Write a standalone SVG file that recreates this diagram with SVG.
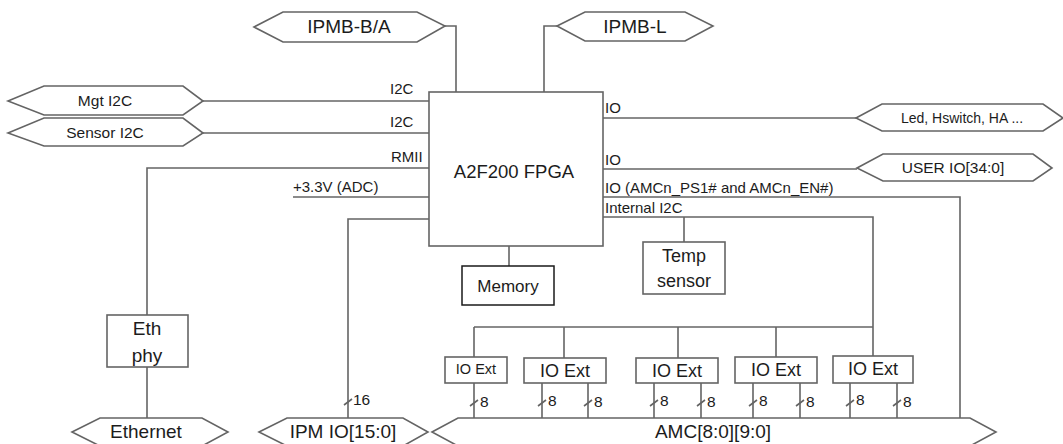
<svg xmlns="http://www.w3.org/2000/svg" width="1063" height="444" viewBox="0 0 1063 444">
<style>
.ln{fill:none;stroke:#646464;stroke-width:1.6}
.bx{fill:#fff;stroke:#646464;stroke-width:1.6}
.hx{fill:#fff;stroke:#646464;stroke-width:1.6}
.bk{fill:#fff;stroke:#1a1a1a;stroke-width:1.5}
text{font-family:"Liberation Sans",Arial,sans-serif;fill:#1c1c1c}
.s{font-size:15px}
.m{font-size:15.5px;text-anchor:middle}
.b{font-size:19px;text-anchor:middle}
.n{font-size:15.5px}
</style>
<rect width="1063" height="444" fill="#fff"/>
<g id="connectors">
<polyline class="ln" points="445,26 456,26 456,92"/>
<polyline class="ln" points="557,26 544,26 544,92"/>
<line class="ln" x1="203" y1="101" x2="429" y2="101"/>
<line class="ln" x1="203" y1="133" x2="429" y2="133"/>
<polyline class="ln" points="429,168 147,168 147,315"/>
<line class="ln" x1="147" y1="367" x2="147" y2="418"/>
<line class="ln" x1="293" y1="197" x2="429" y2="197"/>
<polyline class="ln" points="429,219 348,219 348,418"/>
<line class="ln" x1="509" y1="246" x2="509" y2="266"/>
<line class="ln" x1="603" y1="118" x2="856" y2="118"/>
<line class="ln" x1="603" y1="169" x2="857" y2="169"/>
<polyline class="ln" points="603,197 960,197 960,418"/>
<polyline class="ln" points="603,217 873,217 873,356"/>
<line class="ln" x1="684" y1="217" x2="684" y2="242"/>
<line class="ln" x1="474" y1="327" x2="873" y2="327"/>
<line class="ln" x1="474" y1="327" x2="474" y2="357"/>
<line class="ln" x1="564" y1="327" x2="564" y2="358"/>
<line class="ln" x1="678" y1="327" x2="678" y2="358"/>
<line class="ln" x1="776" y1="327" x2="776" y2="357"/>
<path class="ln" d="M474,383V418M542,383V418M588,383V418M654,383V418M701,383V418M753,383V418M800,383V418M850,383V418M897,383V418"/>
<path class="ln" d="M470,406l8,-6M538,406l8,-6M584,406l8,-6M650,406l8,-6M697,406l8,-6M749,406l8,-6M796,406l8,-6M846,406l8,-6M893,406l8,-6M344,405l8,-6"/>
<text class="n" x="480" y="407">8</text>
<text class="n" x="548" y="406">8</text>
<text class="n" x="594" y="407">8</text>
<text class="n" x="660" y="406">8</text>
<text class="n" x="707" y="407">8</text>
<text class="n" x="759" y="406">8</text>
<text class="n" x="806" y="407">8</text>
<text class="n" x="856" y="405">8</text>
<text class="n" x="903" y="407">8</text>
<text class="n" x="353" y="405">16</text>
<text class="s" x="390" y="94">I2C</text>
<text class="s" x="390" y="127">I2C</text>
<text class="s" x="391" y="162">RMII</text>
<text class="s" x="293" y="192">+3.3V (ADC)</text>
<text class="s" x="605" y="113">IO</text>
<text class="s" x="605" y="165">IO</text>
<text class="s" x="605" y="193">IO (AMCn_PS1# and AMCn_EN#)</text>
<text class="s" x="605" y="213">Internal I2C</text>
</g>
<g id="fpga">
<rect class="bx" x="429" y="92" width="174" height="154"/>
<text style="font-size:18.5px;text-anchor:middle" x="514" y="178">A2F200 FPGA</text>
</g>
<g id="ipmb-ba">
<polygon class="hx" points="254,27 283,12 417,12 445,26 417,42 283,42"/>
<text class="b" x="349" y="33">IPMB-B/A</text>
</g>
<g id="ipmb-l">
<polygon class="hx" points="557,26 585,12 685,12 713,26 685,41 585,41"/>
<text class="b" x="635" y="33">IPMB-L</text>
</g>
<g id="mgt-i2c">
<polygon class="hx" points="8,101 44,86 183,86 203,101 183,115 44,115"/>
<text class="m" x="105" y="106">Mgt I2C</text>
</g>
<g id="sensor-i2c">
<polygon class="hx" points="8,133 44,118 183,118 203,133 183,146 44,146"/>
<text class="m" x="105" y="138">Sensor I2C</text>
</g>
<g id="led">
<polygon class="hx" points="856,118 882,104 1043,104 1063,118 1043,131 882,131"/>
<text style="font-size:14px;text-anchor:middle" x="962" y="123">Led, Hswitch, HA ...</text>
</g>
<g id="user-io">
<polygon class="hx" points="857,168 883,154 1033,154 1052,168 1033,181 883,181"/>
<text class="m" x="953" y="173">USER IO[34:0]</text>
</g>
<g id="memory">
<rect class="bk" x="462" y="266" width="92" height="39"/>
<text style="font-size:17px;text-anchor:middle" x="508" y="292">Memory</text>
</g>
<g id="temp-sensor">
<rect class="bx" x="643" y="242" width="82" height="52"/>
<text style="font-size:18px;text-anchor:middle" x="684" y="262">Temp</text>
<text style="font-size:18px;text-anchor:middle" x="684" y="287">sensor</text>
</g>
<g id="eth-phy">
<rect class="bx" x="107" y="315" width="81" height="52"/>
<text style="font-size:19px;text-anchor:middle" x="147" y="335">Eth</text>
<text style="font-size:19px;text-anchor:middle" x="147" y="362">phy</text>
</g>
<g id="io-ext-1">
<rect class="bx" x="445" y="357" width="62" height="26"/>
<text style="font-size:14.5px;text-anchor:middle" x="476" y="374">IO Ext</text>
</g>
<g id="io-ext-2">
<rect class="bx" x="524" y="358" width="82" height="25"/>
<text style="font-size:18px;text-anchor:middle" x="565" y="377">IO Ext</text>
</g>
<g id="io-ext-3">
<rect class="bx" x="636" y="358" width="82" height="25"/>
<text style="font-size:18px;text-anchor:middle" x="677" y="377">IO Ext</text>
</g>
<g id="io-ext-4">
<rect class="bx" x="735" y="357" width="82" height="26"/>
<text style="font-size:18px;text-anchor:middle" x="776" y="376">IO Ext</text>
</g>
<g id="io-ext-5">
<rect class="bx" x="833" y="356" width="80" height="27"/>
<text style="font-size:18px;text-anchor:middle" x="873" y="375">IO Ext</text>
</g>
<g id="ethernet">
<polygon class="hx" points="72,432 100,418 202,418 228,432 202,446 100,446"/>
<text class="b" x="146" y="438">Ethernet</text>
</g>
<g id="ipm-io">
<polygon class="hx" points="259,432 287,418 403,418 428,432 403,446 287,446"/>
<text class="b" x="343" y="438">IPM IO[15:0]</text>
</g>
<g id="amc">
<polygon class="hx" points="432,432 458,418 970,418 996,432 970,446 458,446"/>
<text class="b" x="713" y="438">AMC[8:0][9:0]</text>
</g>
</svg>
